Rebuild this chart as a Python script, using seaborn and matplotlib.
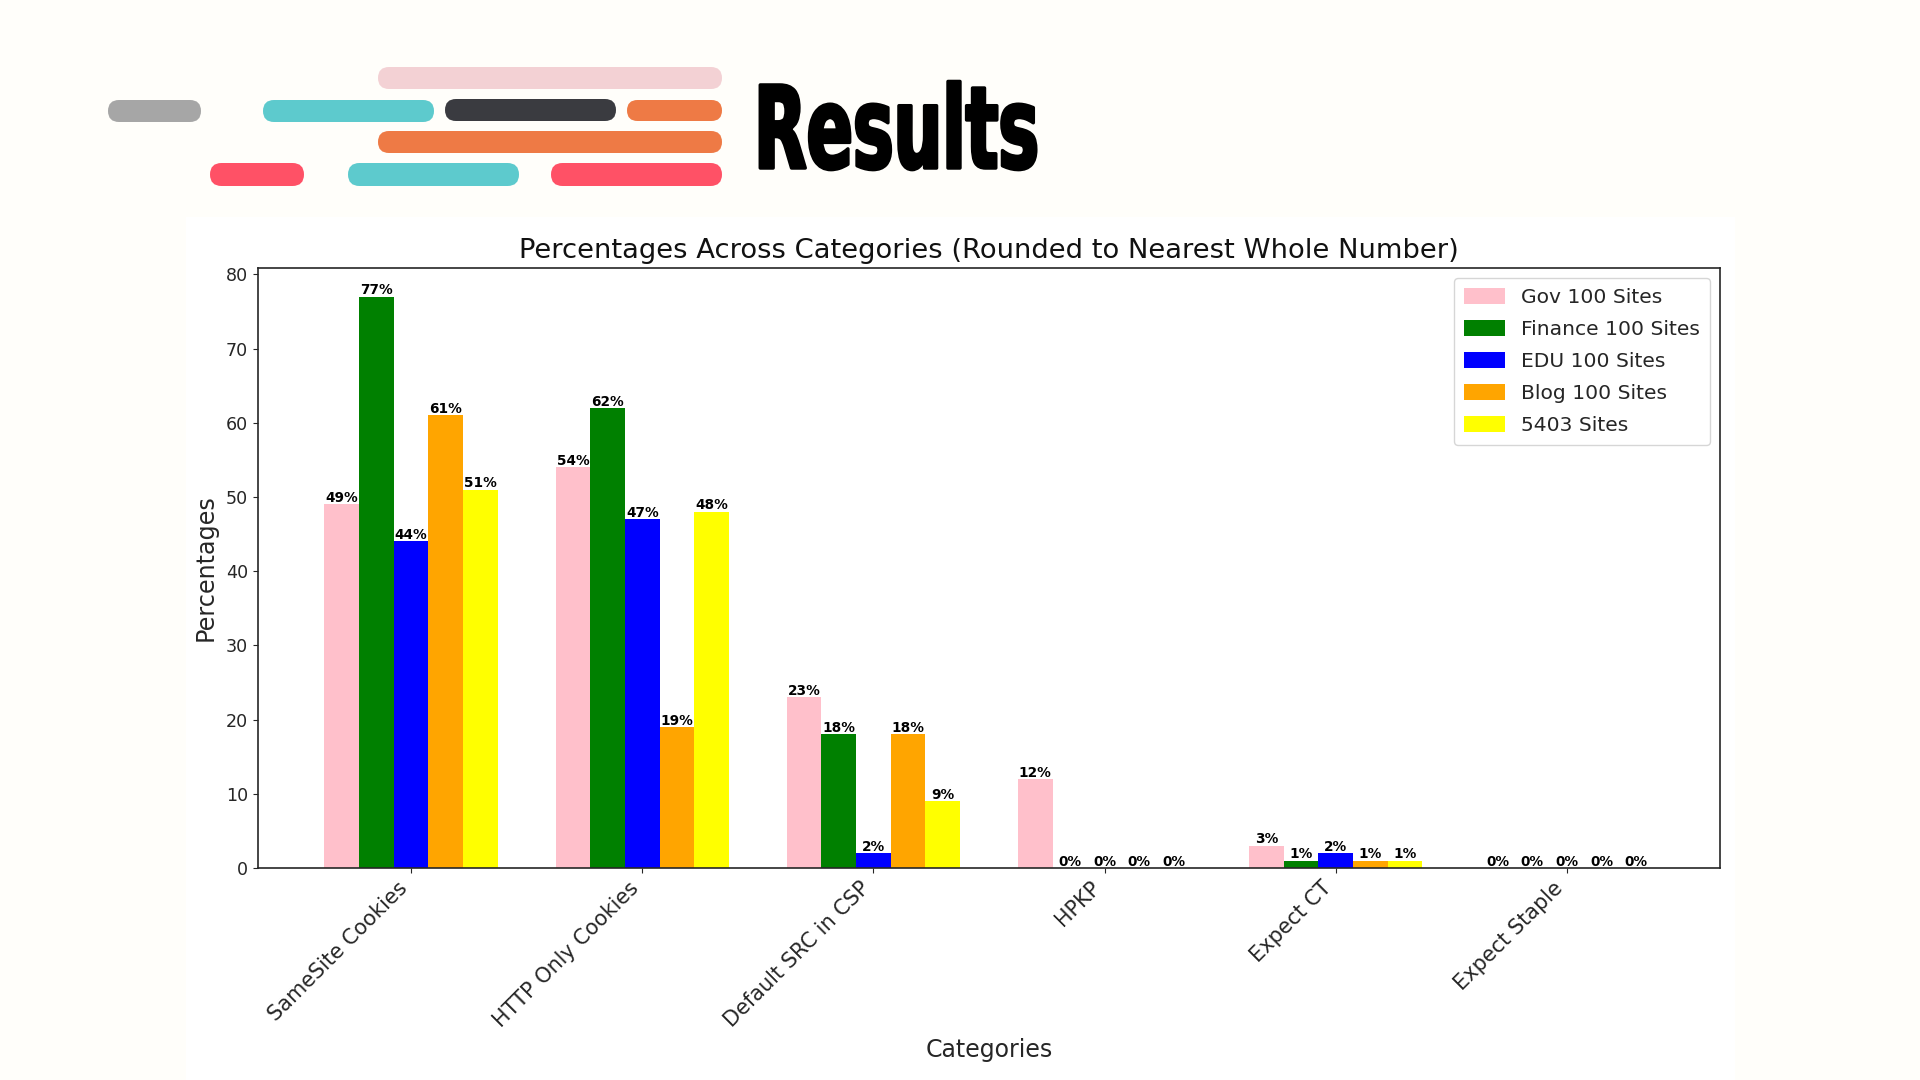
"""Slide 'Results': grouped bars of header adoption per site group."""
import matplotlib
matplotlib.use("Agg")
import matplotlib.pyplot as plt
from matplotlib.patches import FancyBboxPatch, Rectangle
from matplotlib.transforms import Affine2D
import matplotlib.patheffects as pe
import pandas as pd
import seaborn as sns

categories = ["SameSite Cookies", "HTTP Only Cookies", "Default SRC in CSP",
              "HPKP", "Expect CT", "Expect Staple"]
gov = [49, 54, 23, 12, 3, 0]
finance = [77, 62, 18, 0, 1, 0]
edu = [44, 47, 2, 0, 2, 0]
blog = [61, 19, 18, 0, 1, 0]
all_sites = [51, 48, 9, 0, 1, 0]

series_names = ["Gov 100 Sites", "Finance 100 Sites", "EDU 100 Sites",
                "Blog 100 Sites", "5403 Sites"]
series_colors = ["pink", "green", "blue", "orange", "yellow"]

# deco pills on the slide header, in pixels: x0, x1, y0, y1, colour
pills = [
    (378, 722, 67, 89, "#F3D1D4"),
    (108, 201, 100, 122, "#A6A6A6"),
    (263, 434, 100, 122, "#5DCACD"),
    (445, 616, 99, 121, "#3A3B40"),
    (627, 722, 100, 121, "#EE7A45"),
    (378, 722, 131, 153, "#EE7A45"),
    (210, 304, 163, 186, "#FF5166"),
    (348, 519, 163, 186, "#5DCACD"),
    (551, 722, 163, 186, "#FF5166"),
]


class Squeeze(pe.AbstractPathEffect):
    """Narrow the glyphs around x0 (no condensed black font is installed)."""

    def __init__(self, sx, x0, stroke):
        super().__init__()
        self.sx, self.x0, self.stroke = sx, x0, stroke

    def draw_path(self, renderer, gc, tpath, affine, rgbFace=None):
        squeeze = Affine2D().translate(-self.x0, 0).scale(self.sx, 1).translate(self.x0, 0)
        gc0 = renderer.new_gc()
        gc0.copy_properties(gc)
        gc0.set_linewidth(self.stroke)
        gc0.set_foreground("black")
        renderer.draw_path(gc0, tpath, affine + squeeze, rgbFace)
        gc0.restore()


sns.set_style("ticks")
plt.rcParams["font.family"] = ["DejaVu Sans"]

fig = plt.figure(figsize=(19.2, 10.8), dpi=100, facecolor="#FFFEFA")

# background layer in pixel coordinates
bg = fig.add_axes([0, 0, 1, 1], zorder=0)
bg.set_xlim(0, 1920)
bg.set_ylim(1080, 0)
bg.axis("off")
bg.add_patch(Rectangle((186, 217), 1549, 863, color="white", lw=0))
for x0, x1, y0, y1, c in pills:
    h = y1 - y0
    bg.add_patch(FancyBboxPatch((x0, y0), x1 - x0, h,
                                boxstyle=f"round,pad=0,rounding_size={h * 0.5}",
                                facecolor=c, edgecolor="none"))
bg.text(754, 168, "Results", fontweight="bold", fontsize=82, color="black",
        va="baseline", path_effects=[Squeeze(0.6, 754, 2.5)])

# chart
rows = []
for name, vals in zip(series_names, [gov, finance, edu, blog, all_sites]):
    for cat, v in zip(categories, vals):
        rows.append({"Categories": cat, "Site group": name, "Percentages": v})
df = pd.DataFrame(rows)

ax = fig.add_axes([258 / 1920, 1 - 868 / 1080, 1462 / 1920, 600 / 1080], zorder=1)
ax.set_facecolor("white")
sns.barplot(data=df, x="Categories", y="Percentages", hue="Site group",
            hue_order=series_names, order=categories,
            palette=dict(zip(series_names, series_colors)),
            width=0.75, gap=0, saturation=1, errorbar=None, linewidth=0, ax=ax)

for cont in ax.containers:
    ax.bar_label(cont, fmt="%d%%", fontsize=9.8, fontweight="bold", color="black", padding=-0.5)

ax.set_xlim(-0.6625, 5.6625)
ax.set_ylim(0, 80.85)
ax.set_title("Percentages Across Categories (Rounded to Nearest Whole Number)",
             fontsize=19.7, pad=7, color="#111111")
ax.set_xlabel("Categories", fontsize=17, labelpad=5.5)
ax.set_ylabel("Percentages", fontsize=17.2, labelpad=6)
ax.tick_params(axis="y", labelsize=12.6)
ax.tick_params(axis="x", labelsize=15)
plt.setp(ax.get_xticklabels(), rotation=45, ha="right")
for s in ax.spines.values():
    s.set_linewidth(1.2)
ax.legend(loc="upper right", fontsize=14.6, title=None, labelspacing=0.64,
          handleheight=0.8, borderpad=0.5)

fig.savefig("out.png", dpi=100)
